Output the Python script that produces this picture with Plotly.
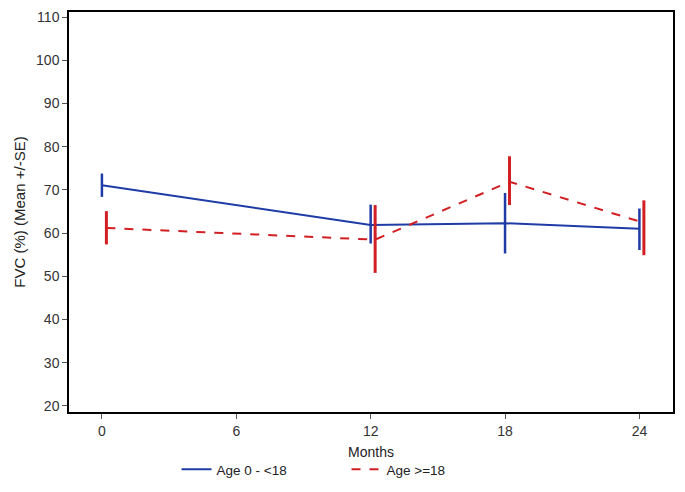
import plotly.graph_objects as go

months = [0, 12, 18, 24]
x_ticks = [0, 6, 12, 18, 24]
red_offset = 0.2

young_mean = [71.1, 61.9, 62.3, 61.0]
young_upper = [73.8, 66.6, 69.3, 65.7]
young_lower = [68.4, 57.6, 55.3, 56.1]

adult_mean = [61.2, 58.5, 71.9, 62.4]
adult_upper = [65.1, 66.5, 77.8, 67.6]
adult_lower = [57.4, 50.8, 66.5, 54.9]

blue = "#1f3ca6"
red = "#d21f24"

fig = go.Figure()

fig.add_trace(go.Scatter(
    x=months, y=young_mean, mode="lines", name="Age 0 - <18",
    line=dict(color=blue, width=2),
    error_y=dict(type="data", symmetric=False,
                 array=[u - m for u, m in zip(young_upper, young_mean)],
                 arrayminus=[m - l for l, m in zip(young_lower, young_mean)],
                 color=blue, thickness=2.5, width=0),
))
fig.add_trace(go.Scatter(
    x=[m + red_offset for m in months], y=adult_mean, mode="lines", name="Age >=18",
    line=dict(color=red, width=2, dash="dash"),
    error_y=dict(type="data", symmetric=False,
                 array=[u - m for u, m in zip(adult_upper, adult_mean)],
                 arrayminus=[m - l for l, m in zip(adult_lower, adult_mean)],
                 color=red, thickness=3, width=0),
))

fam = "Liberation Sans, Arial, sans-serif"
axis_font = dict(family=fam, size=14, color="#333333")

fig.update_layout(
    width=677, height=484,
    margin=dict(l=61, r=12, t=4, b=80),
    paper_bgcolor="white", plot_bgcolor="white",
    font=axis_font,
    showlegend=True,
    legend=dict(orientation="h", x=0.178, xanchor="left", y=-0.105, yanchor="top",
                font=dict(family=fam, size=13.5, color="#222222"),
                entrywidth=125, entrywidthmode="pixels", traceorder="normal"),
)
fig.update_xaxes(
    range=[-1.47, 25.5], tickvals=x_ticks, ticktext=[str(t) for t in x_ticks],
    showgrid=False, zeroline=False, showline=True, linecolor="black", linewidth=1.5,
    mirror=True, ticks="outside", ticklen=5, tickcolor="#555555", automargin=False,
    title=dict(text="Months", standoff=10, font=dict(size=14, color="#222222")),
)
fig.update_yaxes(
    range=[18.6, 111.2], tickvals=list(range(20, 111, 10)),
    showgrid=False, zeroline=False, showline=True, linecolor="black", linewidth=1.5,
    mirror=True, ticks="outside", ticklen=5, tickcolor="#555555", automargin=False,
    title=dict(text="FVC (%) (Mean +/-SE)", standoff=7, font=dict(size=15, color="#222222")),
)

fig.write_html("out.html")
